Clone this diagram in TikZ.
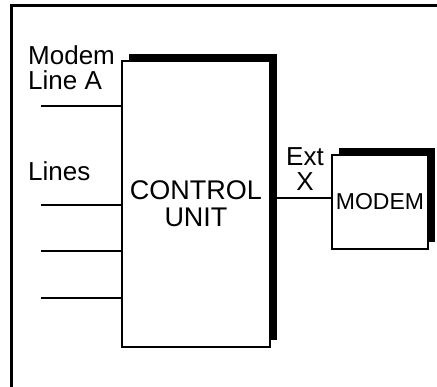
\documentclass[tikz,border=0pt]{standalone}
\usepackage{fontspec}
\setmainfont{Liberation Sans}
\usetikzlibrary{shadows}
\tikzset{
  lbl/.style={font=\fontsize{26}{25}\selectfont,inner sep=0pt},
  unitbox/.style={draw,fill=white,line width=1.5pt,inner sep=0pt,align=center,font=\fontsize{27}{27}\selectfont},
  shd/.style={drop shadow={shadow xshift=7pt,shadow yshift=7pt,fill=black,opacity=1}},
  wire/.style={line width=1.5pt},
}
\begin{document}
\begin{tikzpicture}[x=1pt,y=1pt]
  \useasboundingbox (0,0) rectangle (437,-387);
  \draw[line width=3pt] (11,-390) -- (11,-6) -- (440,-6);
  \node[unitbox,shd,minimum width=148pt,minimum height=286pt] (ctrl) at (196,-204) {CONTROL\\UNIT};
  \node[unitbox,shd,minimum width=96pt,minimum height=94pt,font=\fontsize{23}{25}\selectfont] (mdm) at (380,-202) {MODEM};
  \coordinate (la) at (41,-106);
  \coordinate (l1) at (41,-205);
  \coordinate (l2) at (41,-251);
  \coordinate (l3) at (41,-298);
  \draw[wire] (la) -- (la -| ctrl.west);
  \draw[wire] (l1) -- (l1 -| ctrl.west);
  \draw[wire] (l2) -- (l2 -| ctrl.west);
  \draw[wire] (l3) -- (l3 -| ctrl.west);
  \coordinate (ext) at ([yshift=4pt]mdm.west);
  \draw[wire] (ext -| ctrl.east) -- (ext);
  \node[lbl,align=left,anchor=north west] (mla) at (28,-45) {Modem\\Line A};
  \node[lbl,anchor=north west] (lns) at (28,-161) {Lines};
  \node[lbl,align=center,anchor=south] (extx) at (305,-191) {Ext\\X};
\end{tikzpicture}
\end{document}
